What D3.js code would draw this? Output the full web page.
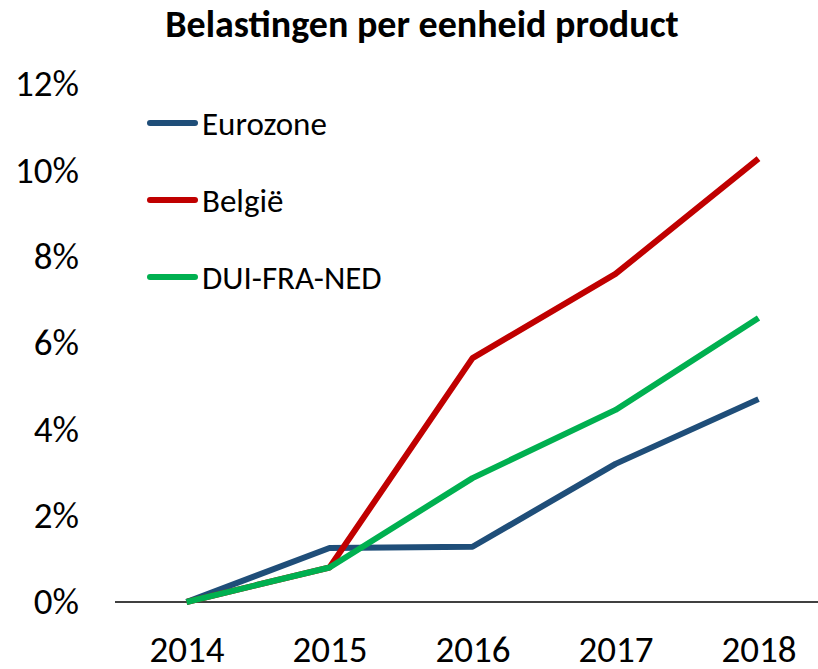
<!DOCTYPE html>
<html>
<head>
<meta charset="utf-8">
<script src="https://cdn.jsdelivr.net/npm/d3@7"></script>
<style>
  body { margin: 0; background: #fff; }
  svg { display: block; font-family: Carlito, "Open Sans", sans-serif; }
</style>
</head>
<body>
<svg width="818" height="669"></svg>
<script>
var years = ["2014", "2015", "2016", "2017", "2018"];
var seriesNames = ["Eurozone", "België", "DUI-FRA-NED"];
var seriesColors = ["#1F4E79", "#C00000", "#00B050"];
var eurozone = [0, 1.25, 1.28, 3.2, 4.7];
var belgie = [0, 0.8, 5.65, 7.6, 10.27];
var duiFraNed = [0, 0.8, 2.87, 4.45, 6.58];
var yTicks = [0, 2, 4, 6, 8, 10, 12];

var svg = d3.select("svg"),
    width = +svg.attr("width"),
    height = +svg.attr("height");

var series = [eurozone, belgie, duiFraNed].map(function(vals, i) {
  return { name: seriesNames[i], color: seriesColors[i], values: vals };
});

var x = d3.scalePoint()
    .domain(years)
    .range([115, 830])
    .padding(0.5);

var y = d3.scaleLinear()
    .domain([0, 12])
    .range([602, 84]);

// title
svg.append("text")
    .attr("x", 422)
    .attr("y", 37)
    .attr("text-anchor", "middle")
    .attr("font-size", "38px")
    .attr("font-weight", "bold")
    .text("Belastingen per eenheid product");

// y axis labels (no axis line)
var yAxis = svg.append("g")
    .attr("transform", "translate(79,0)")
    .call(d3.axisLeft(y).tickValues(yTicks).tickSize(0).tickPadding(0)
      .tickFormat(function(d) { return d + "%"; }));
yAxis.attr("font-family", null).attr("font-size", null);
yAxis.select(".domain").remove();
yAxis.selectAll("text")
    .attr("font-size", "37px")
    .attr("fill", "#000");

// x axis
var xAxis = svg.append("g")
    .attr("transform", "translate(0,602)")
    .call(d3.axisBottom(x).tickSize(0).tickPadding(34));
xAxis.attr("font-family", null).attr("font-size", null);
xAxis.select(".domain").remove();
xAxis.selectAll("text")
    .attr("font-size", "37px")
    .attr("fill", "#000");
xAxis.append("line")
    .attr("x1", 115).attr("x2", width)
    .attr("y1", 0).attr("y2", 0)
    .attr("stroke", "#000")
    .attr("stroke-width", 1.5);

// lines
var line = d3.line()
    .x(function(d, i) { return x(years[i]); })
    .y(function(d) { return y(d); });

svg.selectAll("path.series")
    .data(series)
    .enter().append("path")
    .attr("class", "series")
    .attr("fill", "none")
    .attr("stroke", function(d) { return d.color; })
    .attr("stroke-width", 6)
    .attr("stroke-linejoin", "round")
    .attr("d", function(d) { return line(d.values); });

// legend
var legend = svg.selectAll("g.legend")
    .data(series)
    .enter().append("g")
    .attr("class", "legend")
    .attr("transform", function(d, i) { return "translate(150," + (123 + i * 77) + ")"; });

legend.append("line")
    .attr("x1", 0).attr("x2", 45)
    .attr("stroke", function(d) { return d.color; })
    .attr("stroke-width", 6)
    .attr("stroke-linecap", "round");

legend.append("text")
    .attr("x", 52)
    .attr("dy", "0.35em")
    .attr("font-size", "33px")
    .text(function(d) { return d.name; });
</script>
</body>
</html>
